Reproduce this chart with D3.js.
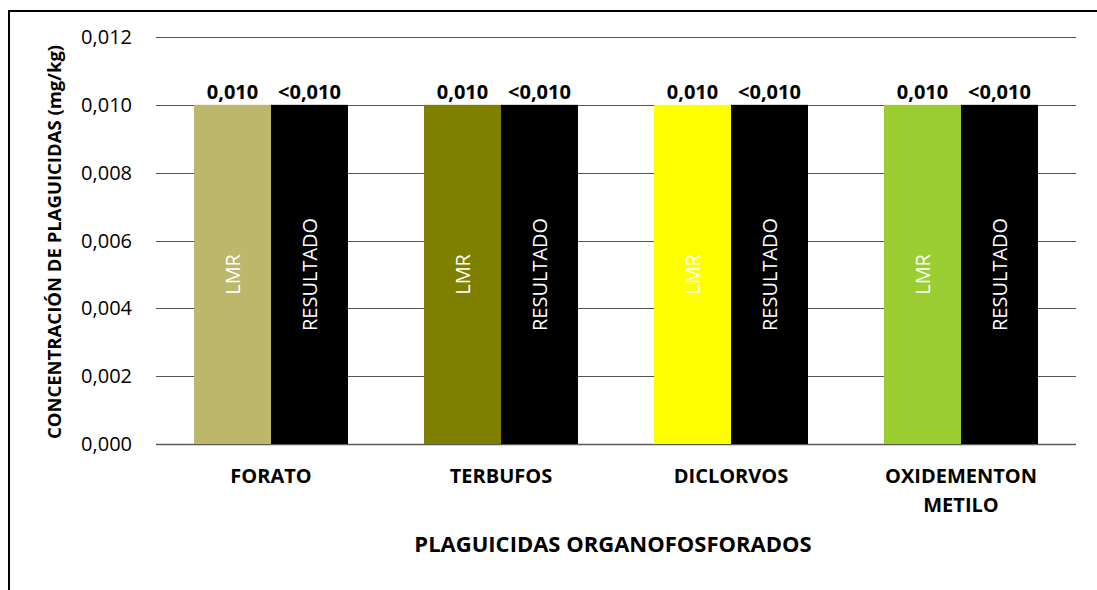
<!DOCTYPE html>
<html>
<head>
<meta charset="utf-8">
<script src="https://cdn.jsdelivr.net/npm/d3@7"></script>
<style>
  body { margin: 0; background: #fff; }
  svg text { font-family: "Open Sans", "Liberation Sans", sans-serif; }
</style>
</head>
<body>
<div id="chart"></div>
<script>
// data
const categories = ["FORATO", "TERBUFOS", "DICLORVOS", "OXIDEMENTON METILO"];
const series = ["LMR", "RESULTADO"];
const lmrValues = [0.010, 0.010, 0.010, 0.010];
const resultValues = [0.010, 0.010, 0.010, 0.010];
const lmrLabels = ["0,010", "0,010", "0,010", "0,010"];
const resultLabels = ["<0,010", "<0,010", "<0,010", "<0,010"];
const lmrColors = ["#bdb76b", "#808000", "#ffff00", "#9acd32"];
const resultColor = "#000000";
const yTicks = [0, 0.002, 0.004, 0.006, 0.008, 0.010, 0.012];

const W = 1097, H = 590;
const plot = {left: 156, right: 1076, top: 37, bottom: 444};

const svg = d3.select("#chart")
  .append("svg")
    .attr("width", W)
    .attr("height", H);

// outer border (left + top)
svg.append("path")
  .attr("d", `M9,${H} L9,11 L${W},11`)
  .attr("fill", "none")
  .attr("stroke", "#000")
  .attr("stroke-width", 2);

const x = d3.scaleBand()
  .domain(categories)
  .range([plot.left, plot.right]);

const xSub = d3.scaleBand()
  .domain(series)
  .range([0, 154]);

const y = d3.scaleLinear()
  .domain([0, 0.012])
  .range([plot.bottom, plot.top]);

// gridlines
svg.append("g")
  .selectAll("line")
  .data(yTicks)
  .join("line")
    .attr("x1", plot.left)
    .attr("x2", plot.right)
    .attr("y1", d => Math.round(y(d)) + 0.5)
    .attr("y2", d => Math.round(y(d)) + 0.5)
    .attr("stroke", d => d === 0 ? "#5a5a5a" : "#555")
    .attr("stroke-width", d => d === 0 ? 1.5 : 1);

// y tick labels
svg.append("g")
  .selectAll("text")
  .data(yTicks)
  .join("text")
    .attr("x", 132)
    .attr("y", d => y(d))
    .attr("dy", "0.35em")
    .attr("text-anchor", "end")
    .style("font-size", "20px")
    .attr("fill", "#000")
    .text(d => d3.format(".3f")(d).replace(".", ","));

// bars
const rows = categories.map((c, i) => ({
  cat: c, i: i,
  bars: [
    {s: "LMR", v: lmrValues[i], label: lmrLabels[i], color: lmrColors[i]},
    {s: "RESULTADO", v: resultValues[i], label: resultLabels[i], color: resultColor}
  ]
}));

const groups = svg.append("g")
  .selectAll("g")
  .data(rows)
  .join("g")
    .attr("transform", d => `translate(${x(d.cat) + (x.bandwidth() - 154) / 2},0)`);

groups.selectAll("rect")
  .data(d => d.bars)
  .join("rect")
    .attr("x", d => xSub(d.s))
    .attr("y", d => y(d.v))
    .attr("width", xSub.bandwidth())
    .attr("height", d => y(0) - y(d.v))
    .attr("fill", d => d.color);

// value labels above bars
groups.selectAll("text.val")
  .data(d => d.bars)
  .join("text")
    .attr("class", "val")
    .attr("x", d => xSub(d.s) + xSub.bandwidth() / 2)
    .attr("y", d => y(d.v) - 6)
    .attr("text-anchor", "middle")
    .style("font-size", "20px")
    .style("font-weight", "bold")
    .text(d => d.label);

// series names inside bars
groups.selectAll("text.ser")
  .data(d => d.bars)
  .join("text")
    .attr("class", "ser")
    .attr("transform", d => `translate(${xSub(d.s) + xSub.bandwidth() / 2},${(y(d.v) + y(0)) / 2}) rotate(-90)`)
    .attr("dy", "0.35em")
    .attr("text-anchor", "middle")
    .attr("fill", "#fff")
    .style("font-size", "20px")
    .text(d => d.s);

// category labels
svg.append("g")
  .selectAll("text")
  .data(categories)
  .join("text")
    .attr("x", d => x(d) + x.bandwidth() / 2)
    .attr("y", 483)
    .attr("text-anchor", "middle")
    .style("font-size", "20px")
    .style("font-weight", "bold")
    .each(function(d) {
      const words = d === "OXIDEMENTON METILO" ? ["OXIDEMENTON", "METILO"] : [d];
      d3.select(this).selectAll("tspan")
        .data(words)
        .join("tspan")
          .attr("x", x(d) + x.bandwidth() / 2)
          .attr("dy", (w, j) => j === 0 ? 0 : 29)
          .text(w => w);
    });

// axis titles
svg.append("text")
  .attr("x", 613)
  .attr("y", 552)
  .attr("text-anchor", "middle")
  .style("font-size", "22px")
  .style("font-weight", "bold")
  .text("PLAGUICIDAS ORGANOFOSFORADOS");

svg.append("text")
  .attr("transform", "translate(55,242) rotate(-90)")
  .attr("dy", "0.35em")
  .attr("text-anchor", "middle")
  .style("font-size", "18.5px")
  .style("font-weight", "bold")
  .text("CONCENTRACIÓN DE PLAGUICIDAS (mg/kg)");
</script>
</body>
</html>
